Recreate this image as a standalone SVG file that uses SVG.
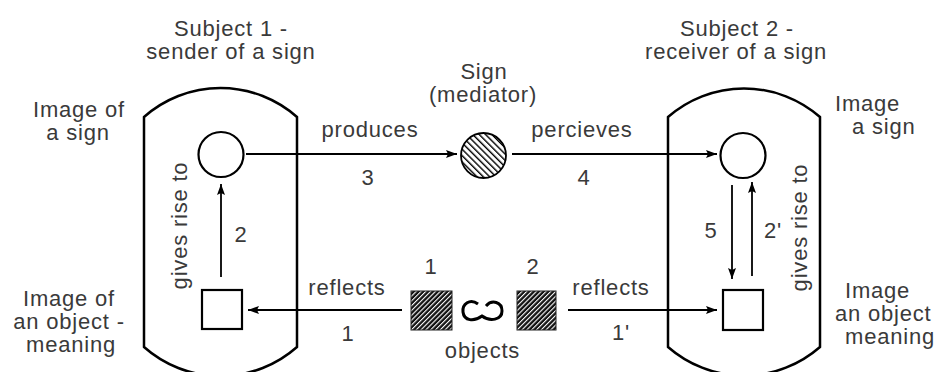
<svg xmlns="http://www.w3.org/2000/svg" width="935" height="372" viewBox="0 0 935 372">
<style>
text{font-family:"Liberation Sans",Arial,sans-serif;font-size:22px;letter-spacing:0.8px;fill:#3a3a3a}
.m{text-anchor:middle}
.cap{fill:none;stroke:#000;stroke-width:2.5}
.nd{fill:#fff;stroke:#000;stroke-width:2.2}
.ar{fill:none;stroke:#000;stroke-width:1.8}
</style>
<defs>
<marker id="ah" markerUnits="userSpaceOnUse" markerWidth="12" markerHeight="10" refX="11" refY="5" orient="auto">
<path d="M0,1 L11,5 L0,9 L2,5 Z" fill="#000"/>
</marker>
<pattern id="hc" patternUnits="userSpaceOnUse" width="4.5" height="4.5" patternTransform="rotate(-45)">
<rect width="4.5" height="4.5" fill="#fff"/>
<rect width="1.4" height="4.5" fill="#000"/>
</pattern>
<pattern id="hs" patternUnits="userSpaceOnUse" width="3.4" height="3.4" patternTransform="rotate(45)">
<rect width="3.4" height="3.4" fill="#111"/>
<rect width="1.1" height="3.4" fill="#fff"/>
</pattern>
</defs>

<g id="subject1">
<path class="cap" d="M144,117 A115.4,115.4 0 0 1 297,117 L297,347 A115.4,115.4 0 0 1 144,347 Z"/>
<text class="m" x="231" y="36">Subject 1 -</text>
<text class="m" x="231" y="59">sender of a sign</text>
<text transform="translate(187,225.5) rotate(-90)" class="m" x="0" y="0">gives rise to</text>
</g>
<g id="subject2">
<path class="cap" d="M668,117 A115.4,115.4 0 0 1 820,117 L820,347 A115.4,115.4 0 0 1 668,347 Z"/>
<text class="m" x="737" y="36">Subject 2 -</text>
<text class="m" x="736" y="59">receiver of a sign</text>
<text transform="translate(807,227.5) rotate(-90)" class="m" x="0" y="0">gives rise to</text>
</g>

<g id="sign1">
<circle class="nd" cx="221" cy="154.5" r="22.5"/>
<text class="m" x="79" y="117">Image of</text>
<text class="m" x="78" y="140">a sign</text>
</g>
<g id="meaning1">
<rect class="nd" x="202" y="290" width="40" height="39"/>
<text class="m" x="69" y="306">Image of</text>
<text class="m" x="69" y="329">an object -</text>
<text class="m" x="71" y="352">meaning</text>
</g>
<g id="mediator">
<circle cx="483.5" cy="155.5" r="22.5" fill="url(#hc)" stroke="#000" stroke-width="1.8"/>
<text class="m" x="484" y="79">Sign</text>
<text class="m" x="483" y="102">(mediator)</text>
</g>
<g id="sign2">
<circle class="nd" cx="743" cy="155.5" r="22.5"/>
<text x="835" y="111">Image</text>
<text x="852" y="134">a sign</text>
</g>
<g id="meaning2">
<rect class="nd" x="723" y="290" width="40" height="40"/>
<text x="845" y="298">Image</text>
<text x="835" y="321">an object</text>
<text x="845" y="344">meaning</text>
</g>
<g id="objects">
<rect x="411" y="291" width="41" height="39" fill="url(#hs)" stroke="#222" stroke-width="1"/>
<rect x="517" y="291" width="39" height="39" fill="url(#hs)" stroke="#222" stroke-width="1"/>
<path d="M478,304 C470,298 462,304 463,312 C464,321 474,322 482,316 C490,322 502,320 502,311 C502,302 492,299 486,306" fill="none" stroke="#000" stroke-width="3"/>
<text class="m" x="431" y="274">1</text>
<text class="m" x="533" y="274">2</text>
<text class="m" x="482.5" y="358">objects</text>
</g>

<g id="connectors">
<line class="ar" x1="246" y1="154" x2="457" y2="154" marker-end="url(#ah)"/>
<line class="ar" x1="512" y1="154" x2="717" y2="154" marker-end="url(#ah)"/>
<line class="ar" x1="402" y1="310" x2="248" y2="310" marker-end="url(#ah)"/>
<line class="ar" x1="568" y1="310" x2="717" y2="310" marker-end="url(#ah)"/>
<line class="ar" x1="221" y1="277" x2="221" y2="184" marker-end="url(#ah)"/>
<line class="ar" x1="732" y1="185" x2="732" y2="279" marker-end="url(#ah)"/>
<line class="ar" x1="752" y1="276" x2="752" y2="182" marker-end="url(#ah)"/>
<text class="m" x="370" y="137">produces</text>
<text class="m" x="368" y="185">3</text>
<text class="m" x="582" y="137">percieves</text>
<text class="m" x="584" y="185">4</text>
<text class="m" x="347" y="295">reflects</text>
<text class="m" x="348" y="341">1</text>
<text class="m" x="611" y="295">reflects</text>
<text class="m" x="621" y="340">1'</text>
<text class="m" x="241" y="242">2</text>
<text class="m" x="711" y="238">5</text>
<text class="m" x="773" y="238">2'</text>
</g>
</svg>
